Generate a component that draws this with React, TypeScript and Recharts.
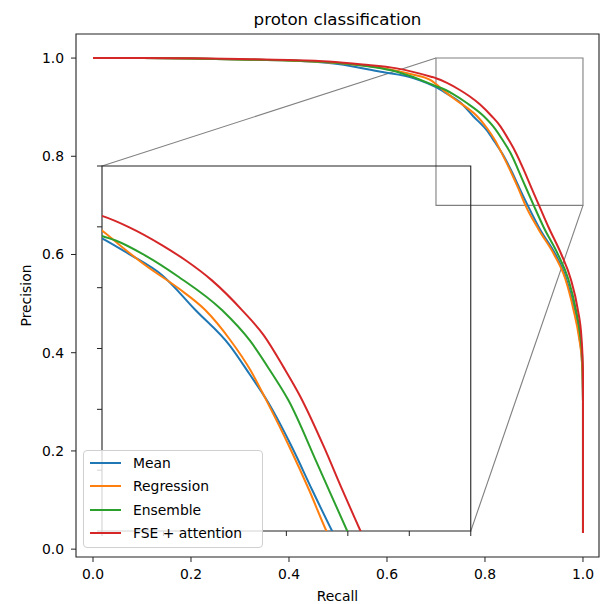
import React from 'react'
import { LineChart, Line, XAxis, YAxis, ReferenceArea, ReferenceLine } from 'recharts'

const W = 600
const H = 604
const PLOT = { left: 76, top: 34, right: 599, bottom: 557 }
const FONT = '"DejaVu Sans", sans-serif'
const GRAY = '#808080'
const SPINE = '#222'

const X_DOMAIN: [number, number] = [-0.0347, 1.0327]
const Y_DOMAIN: [number, number] = [-0.016, 1.049]
const MAIN_TICKS = [0, 0.2, 0.4, 0.6, 0.8, 1.0]
const ZOOM: [number, number] = [0.7, 1.0]
const INSET_TICKS = [0.7, 0.75, 0.8, 0.85, 0.9, 0.95, 1.0]
// where the inset axes sit, in data units of the main axes
const INSET_X: [number, number] = [0.0184, 0.771]
const INSET_Y: [number, number] = [0.0367, 0.78]

const meanRecall = [0, 0.1, 0.2, 0.3, 0.4, 0.5, 0.587, 0.655, 0.7, 0.7214, 0.7487, 0.776, 0.8043, 0.82, 0.835, 0.855, 0.871, 0.8872, 0.913, 0.944, 0.966, 0.982, 0.993, 0.998, 1.0, 1.0]
const meanPrecision = [1.0, 1.0, 0.999, 0.997, 0.995, 0.988, 0.972, 0.959, 0.9406, 0.928, 0.9104, 0.8816, 0.852, 0.829, 0.806, 0.768, 0.7337, 0.7, 0.65, 0.6, 0.55, 0.49, 0.43, 0.38, 0.3, 0.033]

const regressionRecall = [0, 0.1, 0.2, 0.3, 0.4, 0.5, 0.6, 0.65, 0.689, 0.7, 0.716, 0.735, 0.7622, 0.784, 0.8043, 0.8207, 0.8329, 0.853, 0.8685, 0.8826, 0.91, 0.941, 0.964, 0.98, 0.992, 0.998, 1.0, 1.0]
const regressionPrecision = [1.0, 1.0, 0.999, 0.997, 0.995, 0.99, 0.978, 0.967, 0.955, 0.947, 0.9337, 0.9186, 0.8995, 0.8816, 0.857, 0.8323, 0.809, 0.768, 0.7337, 0.7, 0.65, 0.6, 0.55, 0.49, 0.43, 0.38, 0.3, 0.033]

const ensembleRecall = [0, 0.1, 0.2, 0.3, 0.4, 0.5, 0.62, 0.69, 0.7, 0.7106, 0.735, 0.7622, 0.7976, 0.8207, 0.837, 0.8519, 0.875, 0.8995, 0.92, 0.949, 0.97, 0.985, 0.995, 0.999, 1.0, 1.0]
const ensemblePrecision = [1.0, 1.0, 0.999, 0.997, 0.995, 0.99, 0.972, 0.947, 0.9425, 0.939, 0.9266, 0.909, 0.8816, 0.856, 0.8315, 0.807, 0.7556, 0.7, 0.655, 0.6, 0.55, 0.49, 0.43, 0.38, 0.3, 0.033]

const fseRecall = [0, 0.1, 0.2, 0.3, 0.4, 0.48, 0.55, 0.62, 0.69, 0.7, 0.7214, 0.7487, 0.7677, 0.7894, 0.8139, 0.8315, 0.8478, 0.8614, 0.8805, 0.895, 0.9103, 0.93, 0.956, 0.975, 0.989, 0.997, 1.0, 1.0]
const fsePrecision = [1.0, 1.0, 0.9995, 0.998, 0.996, 0.993, 0.987, 0.979, 0.962, 0.959, 0.95, 0.935, 0.9227, 0.906, 0.8816, 0.861, 0.8345, 0.8104, 0.7693, 0.735, 0.7, 0.655, 0.6, 0.55, 0.49, 0.43, 0.36, 0.033]

const SERIES = [
  { name: 'Mean', color: '#1f77b4', recall: meanRecall, precision: meanPrecision },
  { name: 'Regression', color: '#ff7f0e', recall: regressionRecall, precision: regressionPrecision },
  { name: 'Ensemble', color: '#2ca02c', recall: ensembleRecall, precision: ensemblePrecision },
  { name: 'FSE + attention', color: '#d62728', recall: fseRecall, precision: fsePrecision },
].map(s => ({ ...s, points: s.recall.map((x, i) => ({ x, y: s.precision[i] })) }))

const toPxX = (x: number) =>
  PLOT.left + ((x - X_DOMAIN[0]) / (X_DOMAIN[1] - X_DOMAIN[0])) * (PLOT.right - PLOT.left)
const toPxY = (y: number) =>
  PLOT.top + ((Y_DOMAIN[1] - y) / (Y_DOMAIN[1] - Y_DOMAIN[0])) * (PLOT.bottom - PLOT.top)

const fmt1 = (v: number) => v.toFixed(1)
const noLabel = () => ''
const tickStyle = { fill: '#000', fontSize: 13.9, fontFamily: FONT }

const renderLines = () =>
  SERIES.map(s => (
    <Line
      key={s.name}
      name={s.name}
      data={s.points}
      dataKey="y"
      type="monotone"
      stroke={s.color}
      strokeWidth={2}
      dot={false}
      activeDot={false}
      isAnimationActive={false}
    />
  ))

export default function App() {
  const inL = toPxX(INSET_X[0])
  const inR = toPxX(INSET_X[1])
  const inT = toPxY(INSET_Y[1])
  const inB = toPxY(INSET_Y[0])
  const G = 10 // room for the inset's outward ticks
  const P = 3 // room so the inset's top and right spines aren't clipped
  const midY = (PLOT.top + PLOT.bottom) / 2
  const midX = (PLOT.left + PLOT.right) / 2

  return (
    <div style={{ position: 'absolute', left: 0, top: 0, width: W, height: H, fontFamily: FONT, background: '#fff', overflow: 'hidden' }}>
      <div style={{ position: 'absolute', left: midX, top: 11, transform: 'translateX(-50%)', whiteSpace: 'nowrap', fontSize: 16.7, lineHeight: '16.7px', color: '#000' }}>
        proton classification
      </div>

      <div style={{ position: 'absolute', left: 0, top: 0 }}>
        <LineChart width={W} height={H} margin={{ top: PLOT.top, right: W - PLOT.right, bottom: 0, left: 0 }}>
          <XAxis
            type="number"
            dataKey="x"
            domain={X_DOMAIN}
            ticks={MAIN_TICKS}
            tickFormatter={fmt1}
            height={H - PLOT.bottom}
            tickSize={5}
            tickMargin={7}
            axisLine={false}
            tickLine={{ stroke: SPINE }}
            tick={tickStyle}
            allowDataOverflow
            label={() => (
              <text x={midX} y={601} textAnchor="middle" fontSize={13.9} fontFamily={FONT} fill="#000">Recall</text>
            )}
          />
          <YAxis
            type="number"
            domain={Y_DOMAIN}
            ticks={MAIN_TICKS}
            tickFormatter={fmt1}
            width={PLOT.left}
            tickSize={5}
            tickMargin={7}
            axisLine={false}
            tickLine={{ stroke: SPINE }}
            tick={tickStyle}
            allowDataOverflow
            label={() => (
              <text x={31} y={midY} transform={`rotate(-90, 31, ${midY})`} textAnchor="middle" fontSize={13.9} fontFamily={FONT} fill="#000">Precision</text>
            )}
          />
          <ReferenceArea x1={X_DOMAIN[0]} x2={X_DOMAIN[1]} y1={Y_DOMAIN[0]} y2={Y_DOMAIN[1]} fill="none" stroke={SPINE} strokeWidth={1.1} ifOverflow="visible" />
          <ReferenceArea x1={ZOOM[0]} x2={ZOOM[1]} y1={ZOOM[0]} y2={ZOOM[1]} fill="none" fillOpacity={0} stroke={GRAY} strokeWidth={1.1} ifOverflow="visible" />
          <ReferenceLine segment={[{ x: ZOOM[0], y: ZOOM[1] }, { x: INSET_X[0], y: INSET_Y[1] }]} stroke={GRAY} strokeWidth={1.1} ifOverflow="visible" />
          <ReferenceLine segment={[{ x: ZOOM[1], y: ZOOM[0] }, { x: INSET_X[1], y: INSET_Y[0] }]} stroke={GRAY} strokeWidth={1.1} ifOverflow="visible" />
          {renderLines()}
        </LineChart>
      </div>

      <div style={{ position: 'absolute', left: inL - G, top: inT - P }}>
        <LineChart width={inR - inL + G + P} height={inB - inT + G + P} margin={{ top: P, right: P, bottom: 0, left: 0 }}>
          <XAxis
            type="number"
            dataKey="x"
            domain={ZOOM}
            ticks={INSET_TICKS}
            tickFormatter={noLabel}
            tick={{ fontSize: 1 }}
            tickSize={5}
            tickMargin={0}
            height={G}
            axisLine={false}
            tickLine={{ stroke: SPINE }}
            allowDataOverflow
          />
          <YAxis
            type="number"
            domain={ZOOM}
            ticks={INSET_TICKS}
            tickFormatter={noLabel}
            tick={{ fontSize: 1 }}
            tickSize={5}
            tickMargin={0}
            width={G}
            axisLine={false}
            tickLine={{ stroke: SPINE }}
            allowDataOverflow
          />
          {renderLines()}
          <ReferenceArea x1={ZOOM[0]} x2={ZOOM[1]} y1={ZOOM[0]} y2={ZOOM[1]} fill="none" fillOpacity={0} stroke={SPINE} strokeWidth={1.1} ifOverflow="visible" />
        </LineChart>
      </div>

      <div
        style={{
          position: 'absolute', left: 83, top: 450, width: 180, height: 98, boxSizing: 'border-box',
          border: '1px solid #d0d0d0', borderRadius: 4, background: 'rgba(255,255,255,0.8)',
          paddingTop: 0.5, zIndex: 5,
        }}
      >
        {SERIES.map(s => (
          <div key={s.name} style={{ display: 'flex', alignItems: 'center', height: 23.3, fontSize: 13.9, color: '#000' }}>
            <div style={{ marginLeft: 5.5, width: 31, height: 2, background: s.color }} />
            <div style={{ marginLeft: 12.5, whiteSpace: 'nowrap' }}>{s.name}</div>
          </div>
        ))}
      </div>
    </div>
  )
}
